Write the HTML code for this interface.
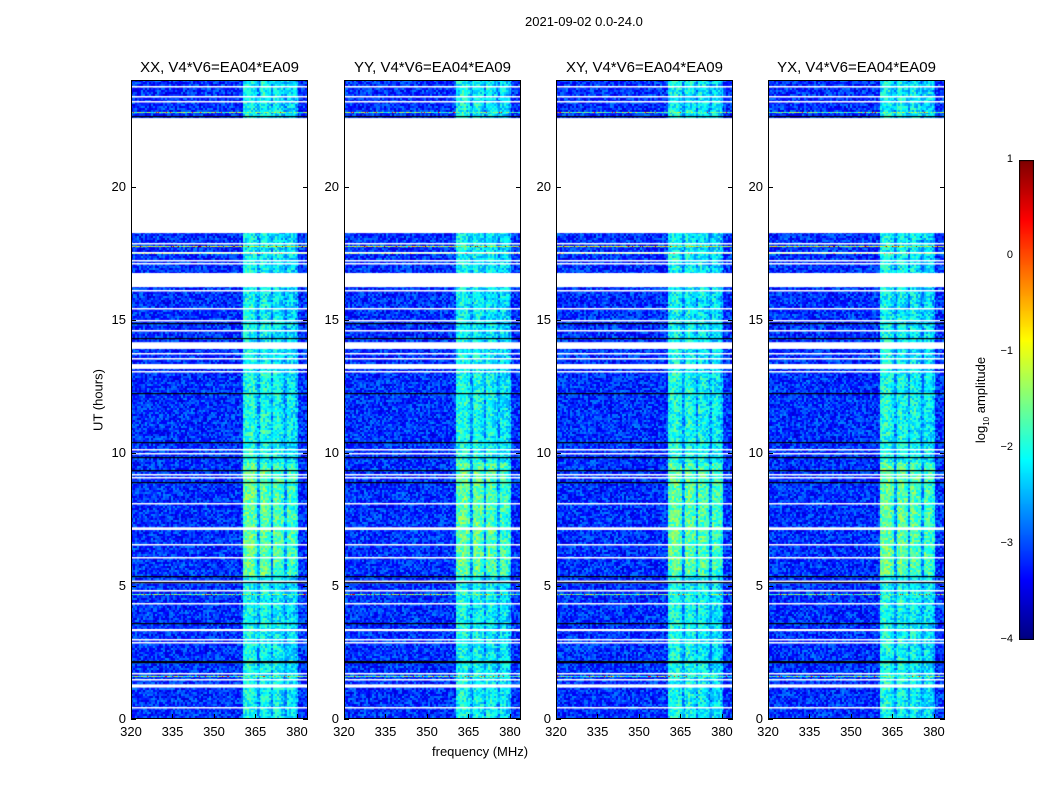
<!DOCTYPE html>
<html><head><meta charset="utf-8">
<style>
body{margin:0;background:#fff;width:1050px;height:800px;position:relative;overflow:hidden;font-family:"Liberation Sans",sans-serif;}
.t{position:absolute;font-size:13px;color:#000;white-space:nowrap}
canvas{position:absolute}
</style></head>
<body>
<div class="t" style="left:525px;top:14px;font-size:13px">2021-09-02 0.0-24.0</div>
<div id="root"></div>
<script>
// ---- data ----
const panelTitles = ["XX, V4*V6=EA04*EA09","YY, V4*V6=EA04*EA09","XY, V4*V6=EA04*EA09","YX, V4*V6=EA04*EA09"];
const panelLeft = [131,344,556,768];
const bandStart = [360.5,360.5,360.5,360.5];
const xTicks = [320,335,350,365,380];
const yTicks = [0,5,10,15,20];
const cbTicks = [1,0,-1,-2,-3,-4];
// flagged (white) intervals in hours [start,end]
const flagGaps = [[18.25,22.57],[16.22,16.75],[13.9,14.15],[13.15,13.33],[5.1,5.2],[1.18,1.3],[7.1,7.2],[3.3,3.38]];
// thin white lines in hours
const whiteLines = [23.77,23.40,23.21,17.88,17.54,17.24,17.13,16.11,15.44,14.99,14.61,13.75,13.56,13.07,10.14,9.99,9.20,9.09,8.11,6.57,6.08,4.85,4.36,3.0,2.89,1.73,1.50,0.45];
// black (zero) lines in hours
const blackLines = [22.65,14.87,14.3,12.25,10.4,9.85,9.35,8.9,5.37,5.13,3.6,2.18,2.15];
// RFI lines (hours, log10 amplitude)
const rfiHours = [22.8,17.75,17.5,15.0,4.7,1.6];
const rfiLevel = [-1.6,-1.0,-1.5,-1.9,-1.5,-1.6];
// band profile: offsets (MHz from band start) and log10 levels
const bandOffset = [0,1,2,3,4,5,6,7,8,9,10,11,12,13,14,15,16,17,18,19];
const bandLevel = [-2.0,-1.9,-1.9,-1.9,-2.1,-2.6,-2.0,-1.9,-2.0,-2.1,-2.6,-2.0,-2.0,-2.1,-2.2,-2.6,-2.1,-2.1,-2.2,-2.4];
// band time modulation (hour bins start, boost)
const boostHours = [0,5.4,9.6,13,24];
const boostValue = [-0.1,0.3,-0.05,-0.15];
const baseLevel = -3.15;

const root=document.getElementById('root');
const top0=80,bot0=719,pw=177,ph=639;
const fx=f=>(f-320)*177/64;
const hy=h=>(24-h)*ph/24;
function jet(t){t=Math.max(0,Math.min(1,t));
 const r=Math.max(0,Math.min(1,1.5-Math.abs(4*t-3))),g=Math.max(0,Math.min(1,1.5-Math.abs(4*t-2))),b=Math.max(0,Math.min(1,1.5-Math.abs(4*t-1)));
 return [r*255,g*255,b*255];}
function hash(a,b,c){let h=(a*374761393+b*668265263+c*2147483647)|0;h=(h^(h>>>13))*1274126177|0;return ((h^(h>>>16))>>>0)/4294967296;}
function div(cls,txt,style,name){const d=document.createElement('div');d.className=cls;d.textContent=txt;d.style.cssText=style;
 
 
 root.appendChild(d);return d;}

panelTitles.forEach((title,p)=>{
 const L=panelLeft[p];
 const c=document.createElement('canvas');c.width=pw;c.height=ph;c.style.left=L+'px';c.style.top=top0+'px';
 
 
 root.appendChild(c);
 const ctx=c.getContext('2d');const img=ctx.createImageData(pw,ph);
 for(let y=0;y<ph;y++){
  const h=24-(y+0.5)*24/ph;
  let boost=0;for(let k=0;k<boostValue.length;k++)if(h>=boostHours[k]&&h<boostHours[k+1])boost=boostValue[k];
  for(let x=0;x<pw;x++){
   const f=320+(x+0.5)*64/pw;
   const o=Math.floor(f-bandStart[p]);
   let v=baseLevel;
   const bi=bandOffset.indexOf(o);
   if(bi>=0){v=bandLevel[bi]+(bandLevel[bi]<-2.5?0:boost);}
   const n=hash(x>>1,y>>1,p)-0.5;
   v+=n*0.9;
   const [r,g,b]=jet((v+4)/5);
   const i=(y*pw+x)*4;img.data[i]=r;img.data[i+1]=g;img.data[i+2]=b;img.data[i+3]=255;
  }}
 ctx.putImageData(img,0,0);
 rfiHours.forEach((h,k)=>{const y=Math.round(hy(h));
  for(let x=0;x<pw;x++){const n=hash(x,k,p+7);const v=rfiLevel[k]+(n-0.5)*1.6+(n>0.93?1.2:0);const [r,g,b]=jet((v+4)/5);
   ctx.fillStyle=`rgb(${r|0},${g|0},${b|0})`;ctx.fillRect(x,y,1,1);}});
 ctx.fillStyle='#fff';
 flagGaps.forEach(([a,b])=>ctx.fillRect(0,hy(b),pw,hy(a)-hy(b)));
 whiteLines.forEach(h=>ctx.fillRect(0,Math.round(hy(h)),pw,1.5));
 ctx.fillStyle='#000';
 blackLines.forEach(h=>ctx.fillRect(0,Math.round(hy(h)),pw,1.2));
 const fr=document.createElement('div');fr.style.cssText=`position:absolute;left:${L}px;top:${top0}px;width:${pw-2}px;height:${ph-2}px;border:1px solid #000`;
 
 
 root.appendChild(fr);
 div('t',title,`left:${L+pw/2}px;top:59px;font-size:15px;transform:translateX(-50%)`,'panel-title-'+(p+1));
 xTicks.forEach(v=>{const x=L+fx(v);
  div('t',String(v),`left:${x}px;top:724px;transform:translateX(-50%)`,'x-tick-label');
  const tk=document.createElement('div');tk.style.cssText=`position:absolute;left:${x}px;top:${bot0-5}px;width:1px;height:5px;background:#000`;
  
  
  root.appendChild(tk);});
 yTicks.forEach(v=>{const y=top0+hy(v);
  div('t',String(v),`left:${L-5}px;top:${y-8}px;transform:translateX(-100%)`,'y-tick-label');
  [L,L+pw-5].forEach(xx=>{const tk=document.createElement('div');tk.style.cssText=`position:absolute;left:${xx}px;top:${y}px;width:5px;height:1px;background:#000`;
   
   
   root.appendChild(tk);});});
});
div('t','frequency (MHz)','left:432px;top:744px','x-axis-title');
div('t','UT (hours)','left:98px;top:400px;transform:translate(-50%,-50%) rotate(-90deg)','y-axis-title');
const cb=document.createElement('canvas');cb.width=15;cb.height=480;cb.style.left='1019px';cb.style.top='160px';


root.appendChild(cb);
const cx=cb.getContext('2d');
for(let y=0;y<480;y++){const [r,g,b]=jet(1-y/479);cx.fillStyle=`rgb(${r|0},${g|0},${b|0})`;cx.fillRect(0,y,15,1);}
cx.strokeStyle='#000';cx.strokeRect(0.5,0.5,14,479);
cbTicks.forEach(v=>{const y=160+(1-v)*96;
 div('t',v<0?'\u2212'+(-v):String(v),`left:1013px;top:${y-7}px;font-size:11px;transform:translateX(-100%)`,'colorbar-tick-label');});
const cl=div('t','','left:982px;top:400px;transform:translate(-50%,-50%) rotate(-90deg)','colorbar-label');
cl.innerHTML='log<sub style="font-size:8px">10</sub> amplitude';
</script>
</body></html>
